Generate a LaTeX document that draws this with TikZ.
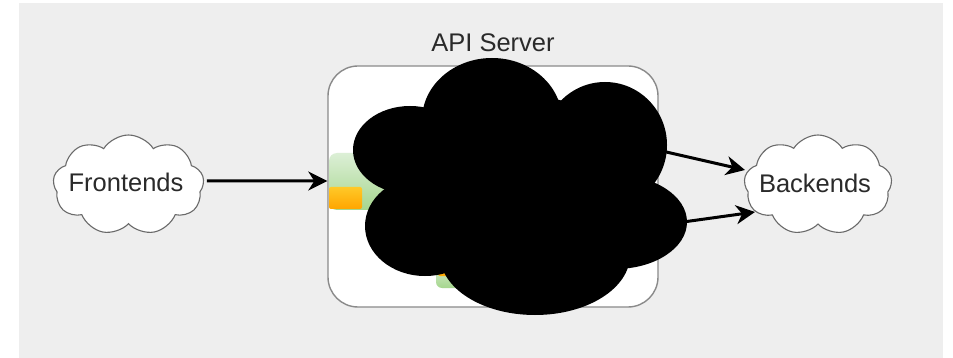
\documentclass[tikz,border=0pt]{standalone}
\usepackage{fontspec}
\setmainfont{Liberation Sans}
\usetikzlibrary{shapes.symbols,arrows.meta}
\definecolor{panel}{HTML}{EEEEEE}
\definecolor{boxline}{HTML}{8A8A8A}
\definecolor{cloudline}{HTML}{6A6A6A}
\definecolor{txt}{HTML}{2A2A2A}
\definecolor{greentop}{HTML}{DCEFD6}
\definecolor{greenbot}{HTML}{A6D68E}
\definecolor{orangetop}{HTML}{FFC928}
\definecolor{orangebot}{HTML}{FFA500}
\tikzset{
  lbl/.style={font=\fontsize{25.5}{28}\selectfont, text=txt, inner sep=0pt},
  svc/.style={cloud, cloud puffs=9, cloud puff arc=115, cloud ignores aspect,
    draw=cloudline, line width=1.1pt, fill=white, inner sep=0pt},
  serverbox/.style={draw=boxline, line width=1.4pt, fill=white, rounded corners=30pt},
  flow/.style={line width=3pt, -{Stealth[length=19pt, width=19pt, inset=6pt]}},
  greenpart/.style={top color=greentop, bottom color=greenbot, draw=none},
  orangepart/.style={top color=orangetop, bottom color=orangebot, draw=none},
}
\begin{document}
\begin{tikzpicture}[x=1pt, y=-1pt]
\useasboundingbox (0,0) rectangle (953,358);
% backdrop
\fill[white] (0,0) rectangle (953,358);
\fill[panel] (19,3) rectangle (943,358);

% API server container
\node[serverbox, minimum width=330pt, minimum height=241pt] (api) at (493,186.5) {};
\node[lbl] (title) at (493,43) {API Server};

% internal components (partly hidden)
\path[greenpart, rounded corners=8pt] (329,153) rectangle (470,210);
\path[orangepart, rounded corners=2pt] (329,187) rectangle (362,209);
\path[greenpart, rounded corners=6pt] (436,262) rectangle (480,288);
\path[orangepart, rounded corners=2pt] (438,266) rectangle (449,276);

% clients and backends
\node[svc, minimum width=151pt, minimum height=100pt] (fe) at (128.5,185) {};
\node[lbl] (fetxt) at (126,182) {Frontends};
\node[svc, minimum width=148pt, minimum height=100pt] (be) at (818,185) {};
\node[lbl] (betxt) at (815,183) {Backends};

% connectors
\coordinate (s1) at (640,146);
\coordinate (s2) at (650,226.6);
\draw[flow] ([xshift=3pt,yshift=4pt]fe.east) -- ([yshift=5.5pt]api.west);
\draw[flow] (s1) -- ([xshift=-73pt,yshift=15pt]be.center);
\draw[flow] (s2) -- ([xshift=-63pt,yshift=-27pt]be.center);

% blacked-out region
\begin{scope}[black]
\fill (492,120) ellipse (70 and 62);
\fill (605,145) ellipse (62 and 63);
\fill (410,150) ellipse (57 and 44);
\fill (425,226) ellipse (60 and 50);
\fill (535,255) ellipse (95 and 60);
\fill (615,222) ellipse (72 and 47);
\fill (520,185) ellipse (120 and 90);
\end{scope}
\end{tikzpicture}
\end{document}
